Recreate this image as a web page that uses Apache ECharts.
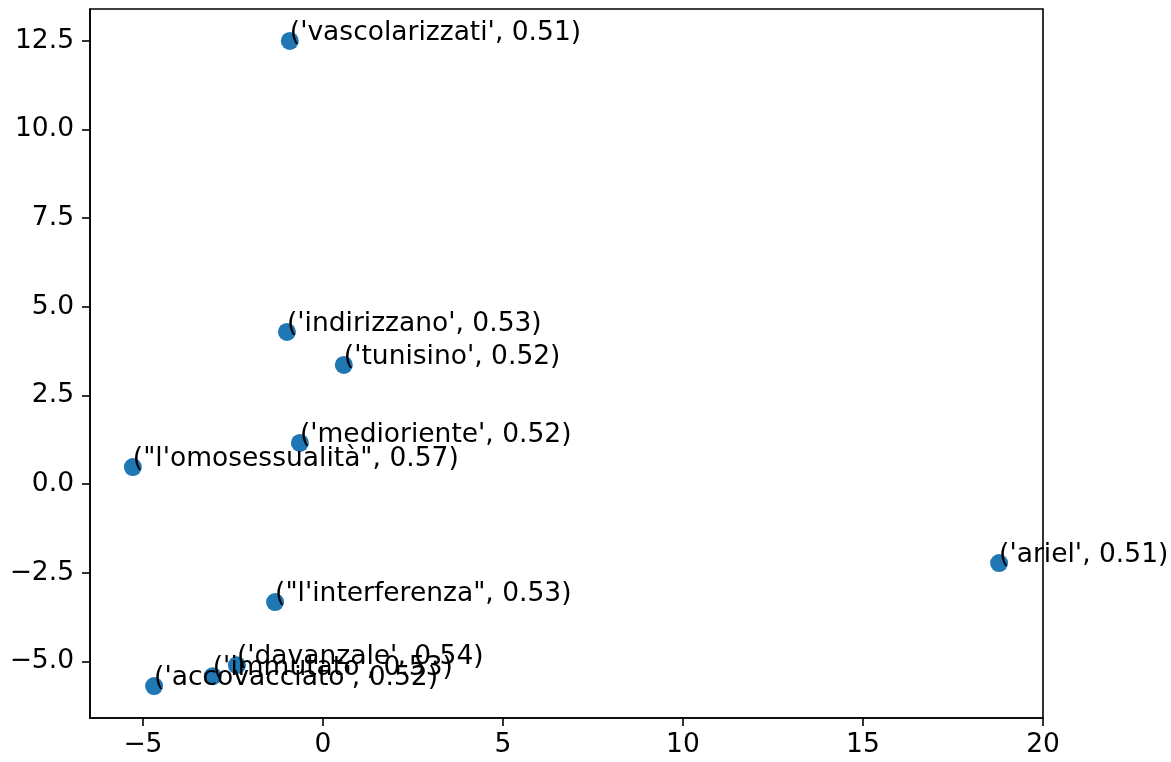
<!DOCTYPE html>
<html>
<head>
<meta charset="utf-8">
<script src="https://cdn.jsdelivr.net/npm/echarts@6/dist/echarts.min.js"></script>
<style>
html,body{margin:0;padding:0;background:#fff;}
#chart{width:1171px;height:762px;}
</style>
</head>
<body>
<div id="chart"></div>
<script>
const words = ['vascolarizzati', 'indirizzano', 'tunisino', 'medioriente', "l'omosessualità", 'ariel', "l'interferenza", 'davanzale', 'immutato', 'accovacciato'];
const scores = [0.51, 0.53, 0.52, 0.52, 0.57, 0.51, 0.53, 0.54, 0.53, 0.52];
const xs = [-0.92, -1.00, 0.58, -0.64, -5.28, 18.78, -1.33, -2.39, -3.06, -4.69];
const ys = [12.50, 4.29, 3.36, 1.16, 0.48, -2.23, -3.33, -5.11, -5.42, -5.70];
const xTicks = [-5, 0, 5, 10, 15, 20];
const yTicks = [-5.0, -2.5, 0.0, 2.5, 5.0, 7.5, 10.0, 12.5];

function pyRepr(w, s) {
  const q = w.indexOf("'") >= 0 ? '"' : "'";
  return '(' + q + w + q + ', ' + s.toFixed(2) + ')';
}
function fmtMinus(v, dec) {
  const s = Math.abs(v).toFixed(dec);
  return (v < 0 ? '\u2212' : '') + s;
}
const data = xs.map((x, i) => ({ value: [x, ys[i]], name: pyRepr(words[i], scores[i]) }));

const FONT = 'DejaVu Sans';
const chart = echarts.init(document.getElementById('chart'), null, { renderer: 'canvas' });
chart.setOption({
  animation: false,
  grid: { left: 90, right: 128, top: 9, bottom: 44, show: true, borderColor: '#000', borderWidth: 1.6, backgroundColor: 'transparent' },
  xAxis: {
    type: 'value', min: -6.47, max: 20,
    splitLine: { show: false },
    axisLine: { show: true, onZero: false, lineStyle: { color: '#000', width: 1.6 } },
    axisTick: { show: true, length: 8, lineStyle: { color: '#000', width: 1.6 }, customValues: xTicks },
    axisLabel: { color: '#000', fontFamily: FONT, fontSize: 26.5, margin: 14, customValues: xTicks, formatter: v => fmtMinus(v, 0) }
  },
  yAxis: {
    type: 'value', min: -6.6, max: 13.4,
    splitLine: { show: false },
    axisLine: { show: true, onZero: false, lineStyle: { color: '#000', width: 1.6 } },
    axisTick: { show: true, length: 8, lineStyle: { color: '#000', width: 1.6 }, customValues: yTicks },
    axisLabel: { color: '#000', fontFamily: FONT, fontSize: 26.5, margin: 16, customValues: yTicks, formatter: v => fmtMinus(v, 1) }
  },
  series: [{
    type: 'scatter',
    symbol: 'circle',
    symbolSize: 18,
    itemStyle: { color: '#1f77b4', opacity: 1 },
    data: data,
    labelLayout: { hideOverlap: false },
    label: {
      show: true,
      position: [9, 1],
      align: 'left',
      verticalAlign: 'middle',
      color: '#000',
      fontFamily: FONT,
      fontSize: 26.5,
      formatter: p => p.name
    }
  }]
});
</script>
</body>
</html>
